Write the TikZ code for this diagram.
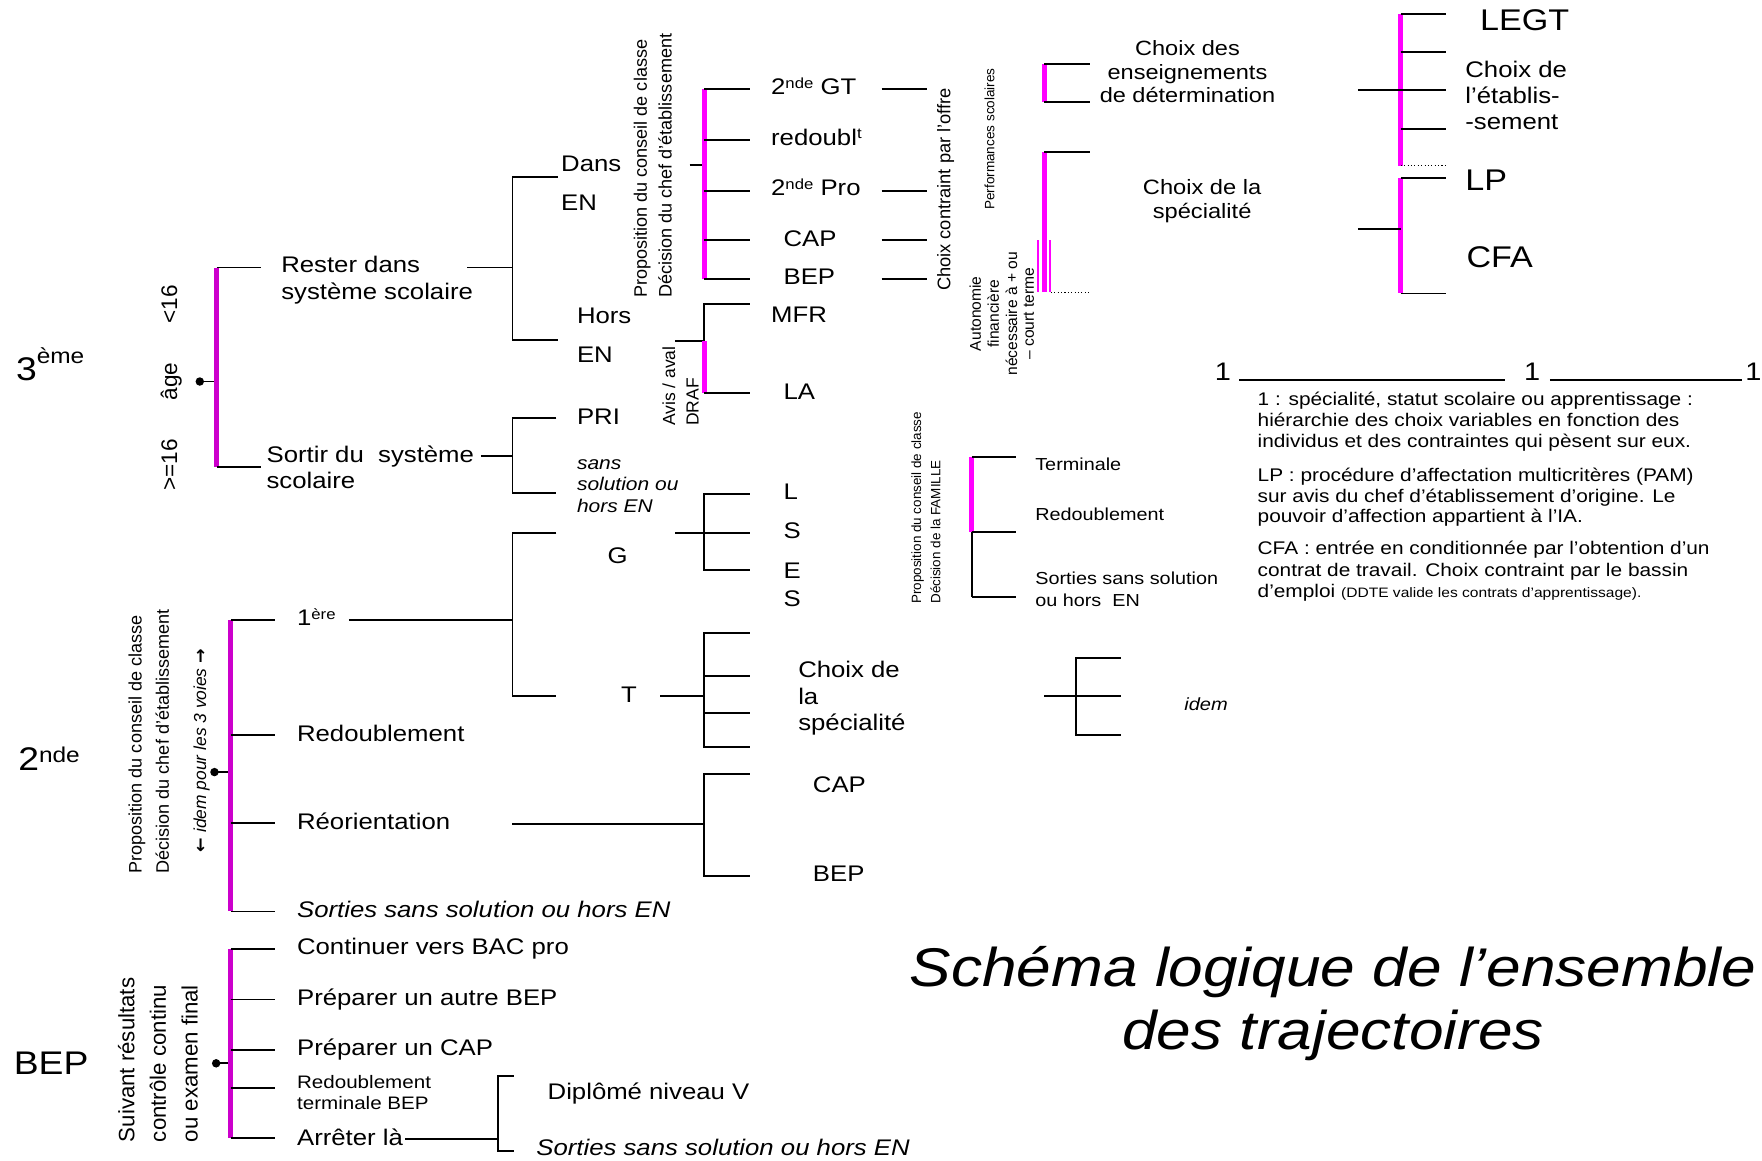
\documentclass[tikz,border=0pt]{standalone}
\usepackage{fontspec}
\setmainfont{Liberation Sans}[FakeStretch=1.14]
\newfontfamily\rotf{Liberation Sans}
\newfontfamily\arrf{DejaVu Sans}
\definecolor{magD}{RGB}{204,0,204}
\definecolor{magB}{RGB}{255,0,255}
\newcommand\fsz[1]{\fontsize{#1}{#1}\selectfont}
\newcommand\spx[3]{\raisebox{#3pt}{\fsz{#2}#1}}
\tikzset{
 tx/.style={anchor=base west, inner sep=0pt, font=\fsz{20}},
 ti/.style={anchor=base west, inner sep=0pt, font=\fsz{20}\itshape},
 tc/.style={anchor=base, inner sep=0pt},
 rt/.style={anchor=base west, inner sep=0pt, rotate=90},
 rc/.style={anchor=base, inner sep=0pt, rotate=90},
 ln/.style={line width=1.7pt},
 barD/.style={line width=4.4pt, draw=magD},
 barB/.style={line width=4.4pt, draw=magB},
 pthin/.style={line width=1.7pt, draw=magB},
 dotl/.style={line width=1pt, dotted},
 bdot/.style={circle, fill=black, inner sep=0pt, minimum size=7.5pt},
}
\begin{document}
\begin{tikzpicture}[x=1pt,y=-1pt]
\fill[white] (0,0) rectangle (1561,1028);
\useasboundingbox (0,0) rectangle (1561,1028);

% ---------- 3eme ----------
\node[tx, font=\fsz{29}] (n3) at (14,337) {3\spx{ème}{19}{15}};
\node[rc, font=\rotf\fsz{20}] (lt16) at (157,269.5) {<16};
\node[rc, font=\rotf\fsz{20}] (age) at (157,338) {âge};
\node[rc, font=\rotf\fsz{20}] (ge16) at (157,412) {>=16};
\node[bdot] (d1) at (177,338) {};
\draw[ln] (d1.center) -- (192,338);
\draw[barD] (192,237) -- (192,414);
\draw[ln] (192,237) -- (231,237);
\draw[ln] (192,414) -- (231,414);
\node[tx] (rester1) at (249,241.5) {Rester dans};
\node[tx] (rester2) at (249,265) {système scolaire};
\node[tx] (sortir1) at (236,409.5) {Sortir du\ \ système};
\node[tx] (sortir2) at (236,433) {scolaire};
\draw[ln] (414,237) -- (454,237);
\draw[ln] (494,157) -- (454,157) -- (454,301) -- (494,301);
\draw[ln] (426,404) -- (454,404);
\draw[ln] (493,370) -- (454,370) -- (454,437) -- (493,437);
\node[tx] (dans) at (497,152) {Dans};
\node[tx] (en1) at (497,186.5) {EN};
\node[tx] (hors) at (511,286.5) {Hors};
\node[tx] (en2) at (511,321) {EN};
\node[tx] (pri) at (511,376) {PRI};
\node[anchor=base west, inner sep=0pt, font=\fsz{16.3}\itshape] (sans1) at (511,415.5) {sans};
\node[anchor=base west, inner sep=0pt, font=\fsz{16.3}\itshape] (sans2) at (511,434.5) {solution ou};
\node[anchor=base west, inner sep=0pt, font=\fsz{16.3}\itshape] (sans3) at (511,454) {hors EN};

% ---------- Dans EN bracket ----------
\node[rt, font=\rotf\fsz{16}] (prop1) at (573,264) {Proposition du conseil de classe};
\node[rt, font=\rotf\fsz{16}] (dec1) at (595,264) {Décision du chef d’établissement};
\draw[ln] (611,146) -- (624,146);
\draw[barB] (624,79) -- (624,247);
\foreach \y in {79,124,169,213,247} \draw[ln] (624,\y) -- (664,\y);
\node[tx] (gt) at (683,84) {2\spx{nde}{13}{5.5} GT};
\node[tx] (red) at (683,128.5) {redoubl\spx{t}{13}{6}};
\node[tx] (pro) at (683,173.5) {2\spx{nde}{13}{5.5} Pro};
\node[tx] (cap1) at (694,218.5) {CAP};
\node[tx] (bep1) at (694,252) {BEP};
\foreach \y in {79,169,213,247} \draw[ln] (781,\y) -- (821,\y);
\node[rt, font=\rotf\fsz{16.2}] (offre) at (842,258) {Choix contraint par l’offre};
\node[rt, font=\rotf\fsz{12}] (perf) at (881,186) {Performances scolaires};
\draw[barB] (925,57) -- (925,90);
\draw[ln] (925,57) -- (966,57);
\draw[ln] (925,90) -- (966,90);
\draw[barB] (925,135) -- (925,259);
\draw[ln] (925,135) -- (966,135);
\draw[pthin] (919.5,213) -- (919.5,259);
\draw[pthin] (930.5,213) -- (930.5,259);
\draw[dotl] (931,259) -- (966,259);
\node[rc, font=\rotf\fsz{13.8}] (auto1) at (869,278) {Autonomie};
\node[rc, font=\rotf\fsz{13.8}] (auto2) at (885,278) {financière};
\node[rc, font=\rotf\fsz{13.8}] (auto3) at (901,278) {nécessaire à + ou};
\node[rc, font=\rotf\fsz{13.8}] (auto4) at (916,278) {– court terme};

% ---------- Hors EN bracket ----------
\draw[ln] (598,302) -- (624,302);
\draw[ln] (664,269) -- (624,269) -- (624,302);
\draw[barB] (624,302) -- (624,348.5);
\draw[ln] (624,348.5) -- (664,348.5);
\node[tx] (mfr) at (683,286) {MFR};
\node[tx] (la) at (694,353.5) {LA};
\node[rt, font=\rotf\fsz{15.5}] (avis) at (598,377.5) {Avis / aval};
\node[rt, font=\rotf\fsz{15.5}] (draf) at (619,377.5) {DRAF};

% ---------- right top ----------
\node[tc, font=\fsz{18.3}] (ch1) at (1052,49) {Choix des};
\node[tc, font=\fsz{18.3}] (ch2) at (1052,70) {enseignements};
\node[tc, font=\fsz{18.3}] (ch3) at (1052,91) {de détermination};
\draw[barB] (1241,12) -- (1241,147);
\foreach \y in {12,46,80,114} \draw[ln] (1241,\y) -- (1281,\y);
\draw[ln] (1203,80) -- (1241,80);
\draw[dotl] (1241,147) -- (1281,147);
\draw[barB] (1241,158) -- (1241,260);
\draw[ln] (1241,158) -- (1281,158);
\draw[ln] (1241,260) -- (1281,260);
\draw[ln] (1203,203) -- (1241,203);
\node[tx, font=\fsz{26.5}] (legt) at (1311,27) {LEGT};
\node[tx] (ce1) at (1298,68.5) {Choix de};
\node[tx] (ce2) at (1298,92) {l’établis-};
\node[tx] (ce3) at (1298,114.5) {-sement};
\node[tx, font=\fsz{26.5}] (lp) at (1298,169) {LP};
\node[tx, font=\fsz{26.5}] (cfa) at (1299,237) {CFA};
\node[tc, font=\fsz{18.4}] (cs1) at (1065,172) {Choix de la};
\node[tc, font=\fsz{18.4}] (cs2) at (1065,194) {spécialité};

% ---------- 1 ___ 1 ___ 1 ----------
\node[tx, font=\fsz{22.5}] (one1) at (1076,337) {1};
\node[tx, font=\fsz{22.5}] (one2) at (1350,337) {1};
\node[tx, font=\fsz{22.5}] (one3) at (1546,337) {1};
\draw[line width=1.7pt] (1098,337) -- (1333,337);
\draw[line width=1.7pt] (1373,337) -- (1543,337);

% ---------- notes ----------
\begin{scope}[every node/.style={anchor=base west, inner sep=0pt, font=\fsz{16.2}}]
\node (nt1) at (1114,359.5) {1 : spécialité, statut scolaire ou apprentissage :};
\node (nt2) at (1114,378) {hiérarchie des choix variables en fonction des};
\node (nt3) at (1114,396.5) {individus et des contraintes qui pèsent sur eux.};
\node (nt4) at (1114,426.5) {LP : procédure d’affectation multicritères (PAM)};
\node (nt5) at (1114,445) {sur avis du chef d’établissement d’origine. Le};
\node (nt6) at (1114,463) {pouvoir d’affection appartient à l’IA.};
\node (nt7) at (1114,491.5) {CFA : entrée en conditionnée par l’obtention d’un};
\node (nt8) at (1114,510.5) {contrat de travail. Choix contraint par le bassin};
\node (nt9) at (1114,529.5) {d’emploi {\fsz{12.1}(DDTE valide les contrats d’apprentissage).}};
\end{scope}

% ---------- Terminale ----------
\node[rt, font=\rotf\fsz{11.9}] (prop2) at (816,535) {Proposition du conseil de classe};
\node[rt, font=\rotf\fsz{11.9}] (dec2) at (833,535) {Décision de la FAMILLE};
\draw[barB] (861,404.5) -- (861,471);
\draw[ln] (861,471) -- (861,528.5);
\foreach \y in {404.5,471,528.5} \draw[ln] (861,\y) -- (900,\y);
\node[tx, font=\fsz{15.4}] (term) at (917,416.5) {Terminale};
\node[tx, font=\fsz{15.4}] (redt) at (917,461) {Redoublement};
\node[tx, font=\fsz{15.4}] (sst1) at (917,518) {Sorties sans solution};
\node[tx, font=\fsz{15.4}] (sst2) at (917,537) {ou hors\ \ EN};

% ---------- 1ere ----------
\node[tx] (prem) at (263,554) {1\spx{ère}{13}{5.5}};
\draw[ln] (309,549.5) -- (454,549.5);
\draw[ln] (493,472) -- (454,472) -- (454,616.5) -- (493,616.5);
\node[tx] (gg) at (538,499) {G};
\draw[ln] (598,472) -- (664,472);
\draw[ln] (664,437.5) -- (624,437.5) -- (624,505) -- (664,505);
\node[tx] (ll) at (694,442.5) {L};
\node[tx] (ss1) at (694,477.5) {S};
\node[tx] (ee) at (694,512.5) {E};
\node[tx] (ss2) at (694,537.5) {S};
\node[tx] (tt) at (550,622) {T};
\draw[ln] (585,617) -- (624,617);
\draw[ln] (664,561) -- (624,561) -- (624,662) -- (664,662);
\draw[ln] (624,598.5) -- (664,598.5);
\draw[ln] (624,632) -- (664,632);
\node[tx] (cs3) at (707,600) {Choix de};
\node[tx] (cs4) at (707,624) {la};
\node[tx] (cs5) at (707,647) {spécialité};
\draw[ln] (925,617) -- (993,617);
\draw[ln] (993,583) -- (953,583) -- (953,651) -- (993,651);
\node[anchor=base west, inner sep=0pt, font=\fsz{15.6}\itshape] (idem) at (1049,629) {idem};

% ---------- 2nde ----------
\node[tx, font=\fsz{29}] (n2) at (16,683) {2\spx{nde}{19}{7.5}};
\node[rt, font=\rotf\fsz{16}] (prop3) at (125.5,774) {Proposition du conseil de classe};
\node[rt, font=\rotf\fsz{16}] (dec3) at (149.5,774) {Décision du chef d’établissement};
\node[rt, font=\rotf\fsz{15.4}\itshape] (idv) at (182.5,755) {{\arrf\bfseries\upshape ←} idem pour les 3 voies {\arrf\bfseries\upshape →}};
\node[bdot] (d2) at (190,684) {};
\draw[ln] (d2.center) -- (204.5,684);
\draw[barD] (204.5,549.5) -- (204.5,807.5);
\foreach \y in {549.5,651,729.5,807.5} \draw[ln] (204.5,\y) -- (244,\y);
\node[tx] (redb) at (263,657) {Redoublement};
\node[tx] (reo) at (263,735) {Réorientation};
\node[ti] (sss1) at (263,813) {Sorties sans solution ou hors EN};
\draw[ln] (454,730) -- (624,730);
\draw[ln] (664,685.5) -- (624,685.5) -- (624,776) -- (664,776);
\node[tx] (cap2) at (720,702) {CAP};
\node[tx] (bep2) at (720,781) {BEP};

% ---------- BEP ----------
\node[tx, font=\fsz{29}] (nbep) at (12,952) {BEP};
\node[rt, font=\rotf\fsz{19.7}] (sr1) at (119,1012) {Suivant résultats};
\node[rt, font=\rotf\fsz{19.7}] (sr2) at (147,1012) {contrôle continu};
\node[rt, font=\rotf\fsz{19.7}] (sr3) at (175,1012) {ou examen final};
\node[bdot] (d3) at (191.5,942) {};
\draw[ln] (d3.center) -- (204.5,942);
\draw[barD] (204.5,841) -- (204.5,1008.5);
\foreach \y in {841,885.5,930,964,1008.5} \draw[ln] (204.5,\y) -- (244,\y);
\node[tx] (cont) at (263,846) {Continuer vers BAC pro};
\node[tx] (prep1) at (263,891) {Préparer un autre BEP};
\node[tx] (prep2) at (263,935) {Préparer un CAP};
\node[tx, font=\fsz{16}] (redbep1) at (263,964.5) {Redoublement};
\node[tx, font=\fsz{16}] (redbep2) at (263,982.5) {terminale BEP};
\node[tx] (arr) at (263,1015) {Arrêter là};
\draw[ln] (arr.base east) ++(2,-6) -- (441,1009);
\draw[ln] (455,953) -- (441,953) -- (441,1020) -- (455,1020);
\node[tx] (dipl) at (485,974) {Diplômé niveau V};
\node[ti] (sss2) at (475,1024) {Sorties sans solution ou hors EN};

% ---------- title ----------
\node[tc, font=\fsz{48.3}\itshape] (tit1) at (1181,874) {Schéma logique de l’ensemble};
\node[tc, font=\fsz{48.3}\itshape] (tit2) at (1181,930) {des trajectoires};
\end{tikzpicture}
\end{document}
